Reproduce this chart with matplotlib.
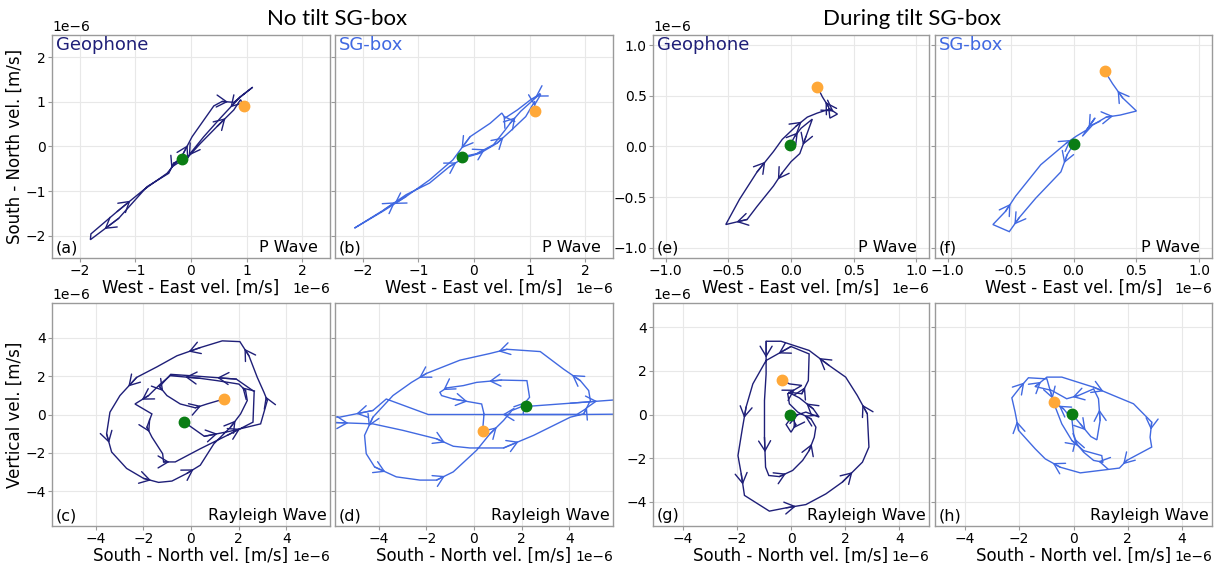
import matplotlib
matplotlib.use('Agg')
import matplotlib.pyplot as plt
from matplotlib.patches import FancyArrowPatch
import numpy as np

plt.rcParams['font.family'] = ['DejaVu Sans']

GEO = '#1f1f78'
SGC = '#4169e1'
ORANGE = '#ffa838'
GREEN = '#0a7d14'

# ---- data (units of 1e-6 m/s) ----
# (a) Geophone, P wave, no tilt: West-East vs South-North
a_x = [-0.16, -0.31, -0.40, -0.79, -1.30, -1.81, -1.80, -1.33, -0.85, -0.43, -0.14, 0.02, 0.41, 0.56, 0.77,
       1.11, 0.89, 0.53, 0.23, -0.01, -0.07, 0.17, 0.47, 0.77, 0.89, 0.95]
a_y = [-0.28, -0.37, -0.60, -0.90, -1.61, -2.09, -1.96, -1.46, -0.97, -0.60, -0.16, 0.22, 0.91, 1.01, 0.99,
       1.33, 1.12, 0.64, 0.22, -0.15, -0.26, 0.07, 0.45, 0.82, 1.05, 0.91]
# (b) SG-box, P wave, no tilt
b_x = [-0.21, 0.05, 0.35, 0.56, 0.65, 0.84, 1.08, 1.19, 1.02, 0.78, 0.56, 0.50, 0.29, -0.07, -0.38, -0.80,
       -1.22, -1.65, -2.15, -1.62, -1.22, -0.80, -0.44, -0.19, 0.11, 0.41, 0.65, 0.93, 1.09, 1.09]
b_y = [-0.23, -0.16, 0.04, 0.37, 0.52, 0.79, 1.06, 1.18, 1.05, 0.82, 0.64, 0.75, 0.52, 0.22, -0.30, -0.75,
       -1.12, -1.46, -1.83, -1.42, -1.08, -0.82, -0.45, -0.26, -0.15, 0.07, 0.34, 0.67, 1.01, 0.80]
# (e) Geophone, P wave, during tilt
e_x = [-0.01, 0.03, 0.08, 0.17, 0.12, 0.07, 0.00, -0.07, -0.14, -0.27, -0.35, -0.52, -0.41, -0.27, -0.14,
       -0.07, 0.04, 0.13, 0.21, 0.31, 0.37, 0.31, 0.30, 0.25, 0.21]
e_y = [0.01, 0.10, 0.18, 0.27, 0.10, -0.07, -0.15, -0.26, -0.39, -0.59, -0.72, -0.77, -0.52, -0.25, -0.05,
       0.07, 0.20, 0.29, 0.33, 0.37, 0.32, 0.28, 0.39, 0.49, 0.59]
# (f) SG-box, P wave, during tilt
f_x = [0.00, -0.05, -0.10, -0.30, -0.43, -0.51, -0.64, -0.54, -0.46, -0.26, -0.06, 0.02, 0.10, 0.17, 0.07,
       0.15, 0.26, 0.37, 0.50, 0.39, 0.31, 0.25]
f_y = [0.02, -0.08, -0.25, -0.51, -0.70, -0.84, -0.77, -0.64, -0.49, -0.18, 0.03, 0.10, 0.16, 0.28, 0.10,
       0.21, 0.29, 0.31, 0.35, 0.48, 0.62, 0.74]
# (c) Geophone, Rayleigh wave, no tilt: South-North vs Vertical
c_x = [-0.28, 0.56, 1.66, 2.92, 3.20, 3.06, 2.78, 2.43, 2.05, 1.31, 0.39, -0.59, -1.43, -2.28, -2.98, -3.40,
       -3.54, -3.33, -2.70, -1.99, -1.36, -0.80, -0.17, 0.39, 0.96, 1.66, 2.08, 2.36, 2.29, 2.01, 1.10, 0.39,
       -0.87, -1.29, -1.78, -2.35, -1.64, -1.85, -1.64, -1.19, -1.15, -0.66, 0.39, 1.52, 2.60, 2.65, 1.90,
       0.30, -0.85, -1.32, -1.01, -0.45, 0.18, 0.67, 1.38]
c_y = [-0.40, -1.14, -0.87, -0.49, 0.73, 1.16, 1.94, 3.07, 3.81, 3.85, 3.50, 3.07, 2.49, 1.94, 0.99, 0.12,
       -1.01, -1.96, -2.82, -3.34, -3.55, -3.48, -3.08, -2.65, -1.53, -0.66, 0.03, 0.73, 1.25, 1.59, 1.77, 1.89,
       2.03, 1.59, 0.99, 0.55, 0.03, -0.66, -1.18, -2.05, -2.48, -2.48, -1.79, -1.09, -0.40, 1.20, 1.85,
       2.00, 2.10, 1.46, 0.99, 0.55, 0.35, 0.55, 0.81]
# (d) SG-box, Rayleigh wave, no tilt
d_x = [2.19, 4.04, 6.30, 6.30, 4.32, -1.92, -3.68, -4.24, -5.64, -6.30, -6.30, -4.24, -2.98, -1.57, -0.87,
       -0.17, 1.24, 2.50, 4.04, 4.60, 4.88, 4.81, 4.46, 3.76, 2.78, 1.38, 0.67, -0.59, -1.99, -2.62, -3.40,
       -4.24, -4.59, -4.52, -4.17, -3.26, -2.27, -1.57, -0.87, 0.11, 0.67, 1.24, 1.59, 2.01, 2.33, 2.22, 1.16,
       0.11, -0.45, -1.15, -1.43, -1.36, -0.87, 0.32, 0.42, 0.36]
d_y = [0.42, 0.59, 0.80, 0.02, 0.00, 0.00, 0.81, 0.21, -0.14, -0.10, -0.40, -0.49, -0.83, -1.27, -1.66,
       -1.75, -1.75, -1.09, -0.14, 0.03, 0.73, 1.25, 1.77, 2.37, 3.29, 3.41, 3.19, 2.84, 2.15, 1.68, 0.99,
       -0.14, -1.09, -2.05, -2.74, -3.26, -3.43, -3.43, -3.00, -1.87, -1.01, -0.31, 0.21, 0.42, 0.90, 1.77, 1.80,
       1.68, 1.51, 1.39, 1.16, 0.99, 0.81, 0.55, 0.03, -0.87]
# (g) Geophone, Rayleigh wave, during tilt
g_x = [-0.02, 0.18, 0.00, -0.18, 0.04, 0.55, 1.04, 0.82, 0.31, -0.10, 0.40, 0.64, 0.67, 0.00, -0.92, -1.41,
       -1.66, -1.80, -1.96, -1.84, -1.72, -0.80, -0.18, 0.55, 1.29, 1.90, 2.64, 2.88, 2.82, 2.45, 2.02, 1.41,
       0.67, -0.37, -0.92, -0.92, -0.98, -0.98, -0.94, -0.82, -0.43, 0.06, 0.43, 0.67, 0.86, 0.92, 0.74, 0.25,
       -0.06, -0.12, 0.40, -0.06, -0.33]
g_y = [0.00, -0.46, -0.81, -0.46, -0.09, 0.11, -0.12, 0.26, 0.76, 1.02, 0.95, 1.55, 2.77, 3.11, 2.47, 1.40,
       0.34, -0.66, -1.88, -2.71, -3.70, -4.42, -4.27, -4.12, -3.63, -3.09, -2.18, -1.49, 0.03, 0.87, 1.71, 2.24,
       2.93, 3.35, 3.35, 1.86, 0.64, -1.04, -2.41, -2.79, -2.84, -2.56, -2.10, -1.65, -1.04, -0.58, -0.20, 0.11,
       0.49, 0.95, 1.33, 1.40, 1.59]
# (h) SG-box, Rayleigh wave, during tilt
h_x = [-0.06, 0.25, 0.64, 0.86, 0.98, 0.92, 0.74, 0.18, -0.25, -0.80, -1.41, -0.98, -0.43, 0.74, 1.47, 2.21,
       2.88, 2.82, 2.88, 1.96, 1.69, 0.25, -0.49, -1.04, -1.41, -2.02, -2.15, -2.27, -1.96, -1.66, -0.98, -0.86,
       -0.67, -0.43, -0.06, 0.37, 1.04, 1.08, 0.74, 0.37, 0.12, 0.00, -0.06, -0.37, -0.71]
h_y = [0.03, -0.43, -1.01, -1.16, -0.27, 0.72, 1.17, 0.87, 0.72, 1.10, 1.28, 1.71, 1.71, 1.25, 0.87, 0.49,
       -0.35, -1.04, -1.49, -2.10, -2.45, -2.67, -2.41, -2.03, -1.57, -0.73, 0.11, 0.76, 1.25, 1.68, 1.63, 1.10,
       0.34, -0.43, -1.19, -1.65, -1.88, -2.18, -2.10, -1.72, -1.34, -0.88, -0.20, 0.26, 0.55]

panel_letters = ['(a)', '(b)', '(e)', '(f)', '(c)', '(d)', '(g)', '(h)']
sensor_names = ['Geophone', 'SG-box', 'Geophone', 'SG-box']
wave_names = ['P Wave', 'Rayleigh Wave']
titles = ['No tilt SG-box', 'During tilt SG-box']
xlabels = ['West - East vel. [m/s]', 'South - North vel. [m/s]']
ylabels = ['South - North vel. [m/s]', 'Vertical vel. [m/s]']

SCALE = 1e-6

fig = plt.figure(figsize=(12.22, 5.63), dpi=100)
W, H = 1222.0, 563.0


def add_ax(l, t, r, b):
    return fig.add_axes([l / W, 1 - b / H, (r - l) / W, (b - t) / H])


cols = [(52, 330), (335, 613), (653, 929), (935, 1212)]
rows = [(35, 258), (303, 526)]

top_data = [(a_x, a_y), (b_x, b_y), (e_x, e_y), (f_x, f_y)]
bot_data = [(c_x, c_y), (d_x, d_y), (g_x, g_y), (h_x, h_y)]
colors = [GEO, SGC, GEO, SGC]
lims_top = [2.5, 2.5, 1.1, 1.1]
lims_bot = [5.83, 5.83, 5.1, 5.1]
ticks_top = [[-2, -1, 0, 1, 2], [-2, -1, 0, 1, 2], [-1, -0.5, 0, 0.5, 1], [-1, -0.5, 0, 0.5, 1]]
ticks_bot = [[-4, -2, 0, 2, 4]] * 4
wave_xpos = [0.955, 0.99]


def draw_path(ax, xs, ys, color):
    x = np.asarray(xs) * SCALE
    y = np.asarray(ys) * SCALE
    ax.plot(x, y, color=color, lw=1.0, zorder=2, solid_joinstyle='miter')
    for i in range(1, len(x) - 1, 3):
        mx, my = (x[i] + x[i + 1]) / 2, (y[i] + y[i + 1]) / 2
        arr = FancyArrowPatch((x[i], y[i]), (mx, my),
                              arrowstyle='->,head_length=0.45,head_width=0.27',
                              mutation_scale=16, color=color, lw=1.0,
                              shrinkA=0, shrinkB=0, zorder=2)
        ax.add_patch(arr)
    ax.plot(x[0], y[0], 'o', color=GREEN, ms=7.5, zorder=5)
    ax.plot(x[-1], y[-1], 'o', color=ORANGE, ms=7.5, zorder=5)


def style(ax, lim, ticks):
    ax.set_xlim(-lim * SCALE, lim * SCALE)
    ax.set_ylim(-lim * SCALE, lim * SCALE)
    ax.set_xticks(np.array(ticks) * SCALE)
    ax.set_yticks(np.array(ticks) * SCALE)
    ax.grid(True, color='#e8e8e8', lw=0.8, zorder=0)
    ax.set_axisbelow(True)
    for s in ax.spines.values():
        s.set_color('#9a9a9a')
        s.set_linewidth(1.0)
    ax.tick_params(colors='#9a9a9a', labelcolor='black', labelsize=10, length=3, pad=1.5)
    ax.xaxis.get_offset_text().set_fontsize(10)
    ax.yaxis.get_offset_text().set_fontsize(10)


for r, (data, lims, tks, wave) in enumerate([(top_data, lims_top, ticks_top, wave_names[0]),
                                             (bot_data, lims_bot, ticks_bot, wave_names[1])]):
    for c in range(4):
        ax = add_ax(cols[c][0], rows[r][0], cols[c][1], rows[r][1])
        style(ax, lims[c], tks[c])
        draw_path(ax, data[c][0], data[c][1], colors[c])
        ax.set_xlabel(xlabels[r], fontsize=12, labelpad=0)
        if c in (1, 3):
            ax.tick_params(labelleft=False)
            ax.yaxis.get_offset_text().set_visible(False)
        if c == 0:
            ax.set_ylabel(ylabels[r], fontsize=12, labelpad=1)
        ax.text(0.012, 0.012, panel_letters[r * 4 + c], transform=ax.transAxes,
                ha='left', va='bottom', fontsize=11.5)
        ax.text(wave_xpos[r], 0.012, wave, transform=ax.transAxes,
                ha='right', va='bottom', fontsize=11.5)
        if r == 0:
            ax.text(0.015, 0.995, sensor_names[c], transform=ax.transAxes,
                    ha='left', va='top', fontsize=13, color=colors[c])

fig.text(337 / W, 1 - 19 / H, titles[0], ha='center', va='center', fontsize=16, family='Lato')
fig.text(912 / W, 1 - 19 / H, titles[1], ha='center', va='center', fontsize=16, family='Lato')

fig.savefig('out.png', dpi=100)
